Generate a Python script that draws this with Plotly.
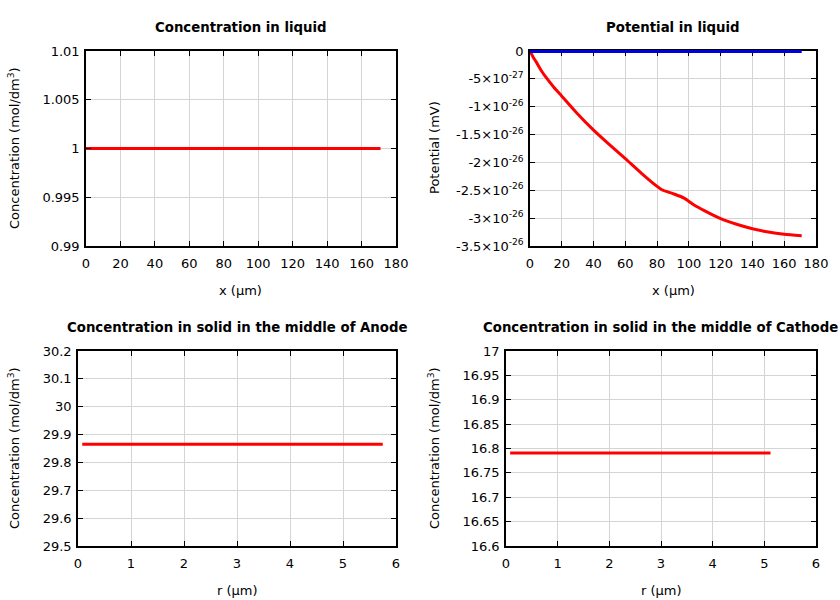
import plotly.graph_objects as go

# ---------------- data ----------------
# Concentration in liquid
liq_x = [0, 171]
liq_c = [1.0, 1.0]

# Potential in liquid (mV)
pot_x = [0, 2, 4, 6, 8, 10, 15, 20, 30, 40, 50, 60, 70, 80, 83, 90, 97,
         103, 110, 120, 130, 140, 150, 160, 171]
pot_red = [0, -0.11e-26, -0.20e-26, -0.30e-26, -0.39e-26, -0.47e-26, -0.65e-26,
           -0.81e-26, -1.13e-26, -1.42e-26, -1.68e-26, -1.93e-26, -2.19e-26,
           -2.43e-26, -2.49e-26, -2.56e-26, -2.64e-26, -2.76e-26, -2.87e-26,
           -3.01e-26, -3.11e-26, -3.19e-26, -3.25e-26, -3.29e-26, -3.315e-26]
pot_blue_x = [0, 171]
pot_blue = [0, 0]
pot_tickvals = [0, -0.5e-26, -1e-26, -1.5e-26, -2e-26, -2.5e-26, -3e-26, -3.5e-26]
pot_ticktext = ["0", "-5×10<sup>-27</sup>", "-1×10<sup>-26</sup>",
                "-1.5×10<sup>-26</sup>", "-2×10<sup>-26</sup>",
                "-2.5×10<sup>-26</sup>", "-3×10<sup>-26</sup>",
                "-3.5×10<sup>-26</sup>"]

# Concentration in solid, anode
an_r = [0.08, 5.75]
an_c = [29.865, 29.865]

# Concentration in solid, cathode
ca_r = [0.08, 5.12]
ca_c = [16.791, 16.791]

RED = "#ff0000"
BLUE = "#0000d8"
FONT = "DejaVu Sans"
FS = 13

W, H = 840, 600


def px(x):
    return x / W


def py(y):
    return 1 - y / H


# potential panel geometry (pixels)
P_TOP, P_BOT = 51, 246
P_MIN, P_MAX = -3.5e-26, 0.0
# helper overlay axis for the zero line so it is not clipped at the border
OV_TOP = 44
ov_scale = (P_MAX - P_MIN) / (P_BOT - P_TOP)
ov_range_top = P_MAX + (P_TOP + 0.5 - OV_TOP) * ov_scale

fig = go.Figure()
fig.add_trace(go.Scatter(x=liq_x, y=liq_c, mode="lines",
                         line=dict(color=RED, width=3), xaxis="x", yaxis="y"))
fig.add_trace(go.Scatter(x=pot_x, y=pot_red, mode="lines",
                         line=dict(color=RED, width=3, shape="spline", smoothing=0.6),
                         xaxis="x2", yaxis="y2"))
fig.add_trace(go.Scatter(x=an_r, y=an_c, mode="lines",
                         line=dict(color=RED, width=3), xaxis="x3", yaxis="y3"))
fig.add_trace(go.Scatter(x=ca_r, y=ca_c, mode="lines",
                         line=dict(color=RED, width=3), xaxis="x4", yaxis="y4"))
fig.add_trace(go.Scatter(x=pot_blue_x, y=pot_blue, mode="lines",
                         line=dict(color=BLUE, width=3), xaxis="x5", yaxis="y5"))

common = dict(showline=True, mirror="allticks", linecolor="black", linewidth=1.5,
              ticks="inside", ticklen=5, tickwidth=1, tickcolor="black",
              showgrid=True, gridcolor="#d4d4d4", gridwidth=1, zeroline=False,
              automargin=False,
              tickfont=dict(family=FONT, size=FS, color="black"))
xcommon = dict(common, ticklabelstandoff=5)
ycommon = dict(common, ticklabelstandoff=2)

hidden = dict(showline=False, showgrid=False, zeroline=False, ticks="",
              showticklabels=False, automargin=False, fixedrange=True)

fig.update_layout(
    template="none",
    width=W, height=H, showlegend=False,
    paper_bgcolor="white", plot_bgcolor="rgba(0,0,0,0)",
    margin=dict(l=0, r=0, t=0, b=0, pad=0, autoexpand=False),
    font=dict(family=FONT, size=FS, color="black"),
    xaxis=dict(domain=[px(86), px(396)], range=[0, 180], dtick=20, anchor="y", **xcommon),
    yaxis=dict(domain=[py(246), py(51)], range=[0.99, 1.01], dtick=0.005, anchor="x", **ycommon),
    xaxis2=dict(domain=[px(530), px(816)], range=[0, 180], dtick=20, anchor="y2", **xcommon),
    yaxis2=dict(domain=[py(P_BOT), py(P_TOP)], range=[P_MIN, P_MAX], tickvals=pot_tickvals,
                ticktext=pot_ticktext, anchor="x2", **ycommon),
    xaxis3=dict(domain=[px(78), px(396)], range=[0, 6], dtick=1, anchor="y3", **xcommon),
    yaxis3=dict(domain=[py(546), py(351)], range=[29.5, 30.2], dtick=0.1, anchor="x3", **ycommon),
    xaxis4=dict(domain=[px(506), px(816)], range=[0, 6], dtick=1, anchor="y4", **xcommon),
    yaxis4=dict(domain=[py(546), py(351)], range=[16.6, 17.0], dtick=0.05, anchor="x4", **ycommon),
    xaxis5=dict(domain=[px(530), px(816)], range=[0, 180], anchor="y5", **hidden),
    yaxis5=dict(domain=[py(P_BOT), py(OV_TOP)], range=[P_MIN, ov_range_top], anchor="x5", **hidden),
)

ann = []


def add_text(text, x, y, bold=False, angle=0, size=FS):
    ann.append(dict(text=f"<b>{text}</b>" if bold else text, x=px(x), y=py(y),
                    xref="paper", yref="paper", showarrow=False, textangle=angle,
                    xanchor="center", yanchor="middle",
                    font=dict(family=FONT, size=size, color="black")))


TS = 13.3
add_text("Concentration in liquid", 241, 27, bold=True, size=TS)
add_text("Potential in liquid", 673, 27, bold=True, size=TS)
add_text("Concentration in solid in the middle of Anode", 237, 327, bold=True, size=TS)
add_text("Concentration in solid in the middle of Cathode", 660, 327, bold=True, size=TS)

add_text("x (μm)", 241, 290)
add_text("x (μm)", 673, 290)
add_text("r (μm)", 237, 590)
add_text("r (μm)", 661, 590)

add_text("Concentration (mol/dm<sup>3</sup>)", 14, 148, angle=-90)
add_text("Potential (mV)", 434, 148, angle=-90)
add_text("Concentration (mol/dm<sup>3</sup>)", 14, 448, angle=-90)
add_text("Concentration (mol/dm<sup>3</sup>)", 434, 448, angle=-90)

fig.update_layout(annotations=ann)
fig.write_html("out.html", config={"displayModeBar": False},
               post_script="document.body.style.margin='0px';document.body.style.overflow='hidden';")
